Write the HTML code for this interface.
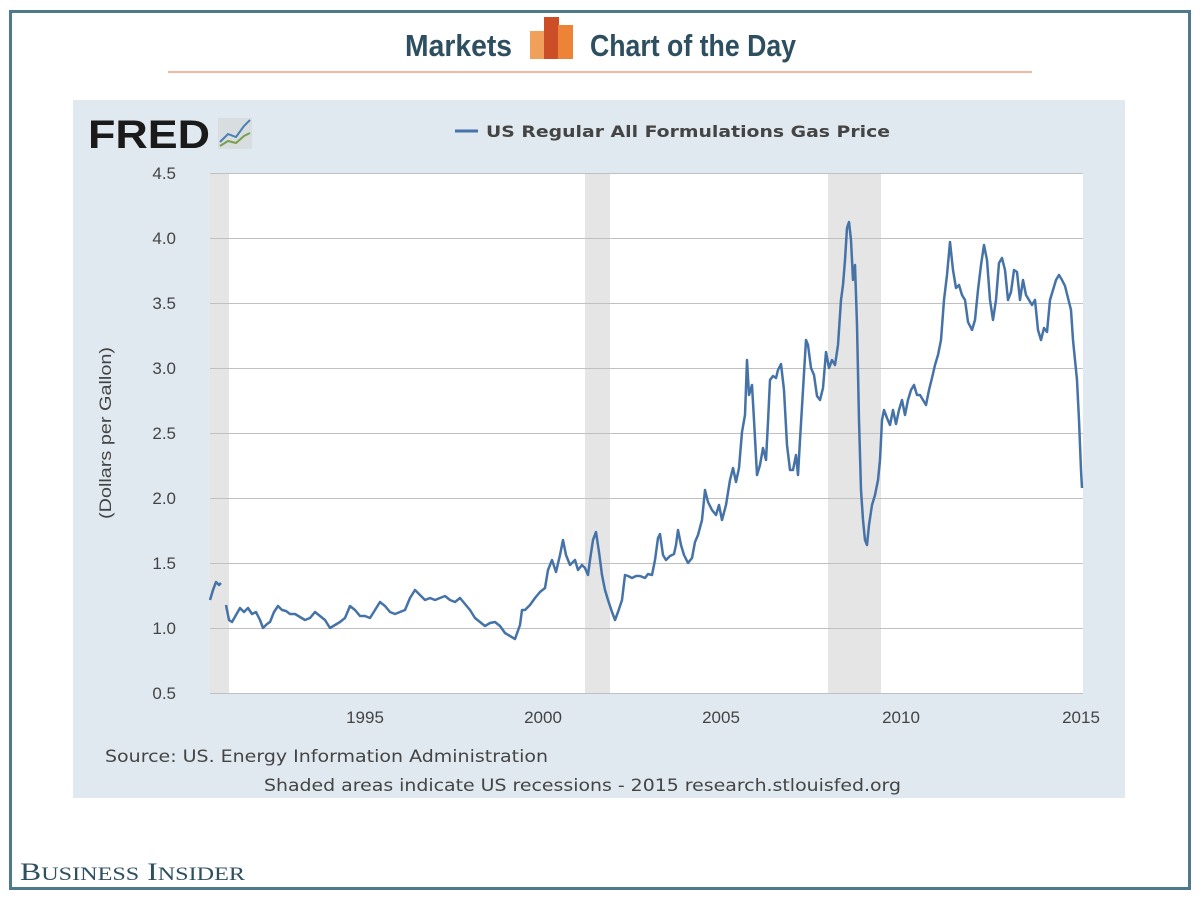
<!DOCTYPE html>
<html><head><meta charset="utf-8"><style>
body{margin:0;width:1200px;height:900px;background:#fff;overflow:hidden;font-family:"Liberation Sans",sans-serif}
</style></head><body>
<svg width="1200" height="900" xmlns="http://www.w3.org/2000/svg" font-family="Liberation Sans, sans-serif">
<rect x="10.5" y="11.5" width="1179" height="877" fill="none" stroke="#4f7a8c" stroke-width="3"/>
<text x="405" y="56" font-family="Liberation Sans Narrow, Liberation Sans, sans-serif" font-weight="bold" font-size="31" fill="#2d4f60" textLength="107" lengthAdjust="spacingAndGlyphs">Markets</text>
<rect x="530" y="31" width="15" height="28" fill="#f0a05a"/>
<rect x="544" y="17" width="15" height="42" fill="#cc4e26"/>
<rect x="558" y="25" width="15" height="34" fill="#ec8336"/>
<text x="590" y="56" font-family="Liberation Sans Narrow, Liberation Sans, sans-serif" font-weight="bold" font-size="31" fill="#2d4f60" textLength="206" lengthAdjust="spacingAndGlyphs">Chart of the Day</text>
<line x1="168" y1="72" x2="1032" y2="72" stroke="#f0a080" stroke-width="1.5"/>
<rect x="73" y="100" width="1052" height="698" fill="#e1e9f0"/>
<text x="88" y="148" font-weight="bold" font-size="40" fill="#1a1a1a" textLength="122" lengthAdjust="spacingAndGlyphs">FRED</text>
<rect x="218" y="118" width="34" height="31" fill="#d8dde0"/>
<polyline points="220,142 228,134 236,137 244,126 250,120" fill="none" stroke="#4a7fb5" stroke-width="2"/>
<polyline points="220,146 228,141 236,143 244,136 250,133" fill="none" stroke="#7aa04a" stroke-width="2"/>
<line x1="455" y1="131" x2="478" y2="131" stroke="#4572a7" stroke-width="3"/>
<text x="486" y="137" font-family="DejaVu Sans, sans-serif" font-weight="bold" font-size="16" fill="#444" textLength="404" lengthAdjust="spacingAndGlyphs">US Regular All Formulations Gas Price</text>
<rect x="210" y="173" width="873" height="520" fill="#fff"/>
<rect x="210" y="173" width="19" height="520" fill="#e5e5e5"/>
<rect x="585" y="173" width="25" height="520" fill="#e5e5e5"/>
<rect x="828" y="173" width="53" height="520" fill="#e5e5e5"/>
<g stroke="#c0c0c0" stroke-width="1">
<line x1="210" y1="173.5" x2="1083" y2="173.5"/><line x1="210" y1="238.5" x2="1083" y2="238.5"/>
<line x1="210" y1="303.5" x2="1083" y2="303.5"/><line x1="210" y1="368.5" x2="1083" y2="368.5"/>
<line x1="210" y1="433.5" x2="1083" y2="433.5"/><line x1="210" y1="498.5" x2="1083" y2="498.5"/>
<line x1="210" y1="563.5" x2="1083" y2="563.5"/><line x1="210" y1="628.5" x2="1083" y2="628.5"/>
<line x1="210" y1="693.5" x2="1083" y2="693.5"/>
</g>
<g font-size="17" fill="#444" text-anchor="end">
<text x="176" y="179">4.5</text><text x="176" y="244">4.0</text><text x="176" y="309">3.5</text>
<text x="176" y="374">3.0</text><text x="176" y="439">2.5</text><text x="176" y="504">2.0</text>
<text x="176" y="569">1.5</text><text x="176" y="634">1.0</text><text x="176" y="699">0.5</text>
</g>
<g font-size="17" fill="#444" text-anchor="middle">
<text x="365" y="723">1995</text><text x="543" y="723">2000</text><text x="721" y="723">2005</text>
<text x="901" y="723">2010</text><text x="1081" y="723">2015</text>
</g>
<text transform="translate(111,433) rotate(-90)" font-size="17" fill="#444" text-anchor="middle" textLength="172" lengthAdjust="spacingAndGlyphs">(Dollars per Gallon)</text>
<g fill="none" stroke="#4572a7" stroke-width="2.5" stroke-linejoin="round">
<polyline points="210,600 213,590 216,582 219,585 221,583"/>
<polyline points="226,605 229,620 232,622 236,615 240,608 244,612 248,608 252,614 256,612 260,620 263,628 267,624 270,622 274,612 278,606 282,610 286,611 290,614 295,614 300,617 305,620 310,618 315,612 320,616 325,620 330,628 335,625 340,622 345,618 350,606 355,610 360,616 365,616 370,618 375,610 380,602 385,606 390,612 395,614 400,612 405,610 410,598 415,590 420,595 425,600 430,598 435,600 440,598 445,596 450,600 455,602 460,598 465,604 470,610 475,618 480,622 485,626 490,623 495,622 500,626 505,633 510,636 515,639 520,625 522,610 525,610 530,605 535,598 540,592 545,588 548,570 552,560 556,572 560,555 563,540 566,555 570,565 575,560 578,570 582,565 585,568 588,575 590,560 593,540 596,532 599,552 602,575 605,590 608,600 612,612 615,620 618,612 622,600 625,575 628,576 632,578 636,576 640,576 645,578 648,574 652,575 655,560 658,538 660,534 663,555 666,560 670,556 674,554 676,545 678,530 681,545 684,555 688,563 692,558 695,542 698,535 702,520 705,490 708,502 712,510 716,515 719,505 722,520 726,505 730,480 733,468 736,482 739,468 742,432 745,415 747,360 749,395 752,385 754,420 757,475 760,465 763,448 766,460 768,422 770,380 773,376 776,378 778,370 781,364 784,390 787,445 790,470 793,470 796,455 798,475 800,440 803,390 806,340 808,345 811,368 814,375 817,396 820,400 823,388 826,352 829,368 832,360 835,365 838,345 841,300 843,285 845,260 847,228 849,222 851,240 853,280 855,265 857,325 859,420 861,490 863,520 865,540 867,545 869,525 872,505 875,495 878,480 880,460 882,420 884,410 887,418 890,425 893,410 896,424 899,410 902,400 905,415 908,400 911,390 914,385 917,395 920,395 923,400 926,405 929,390 932,378 935,365 938,355 941,340 944,300 947,275 950,242 953,270 956,288 959,285 962,295 965,300 968,322 972,330 975,320 978,290 981,265 984,245 987,260 990,300 993,320 996,300 999,263 1002,258 1005,270 1008,300 1011,292 1014,270 1017,272 1020,300 1023,280 1026,295 1029,300 1032,305 1035,300 1038,330 1041,340 1044,328 1047,332 1050,300 1053,290 1056,280 1059,275 1062,280 1065,286 1068,298 1071,310 1073,340 1075,360 1077,380 1079,420 1081,470 1082,488"/>
</g>
<text x="105" y="762" font-family="DejaVu Sans, sans-serif" font-size="17" fill="#444" textLength="443" lengthAdjust="spacingAndGlyphs">Source: US. Energy Information Administration</text>
<text x="264" y="791" font-family="DejaVu Sans, sans-serif" font-size="17" fill="#444" textLength="637" lengthAdjust="spacingAndGlyphs">Shaded areas indicate US recessions - 2015 research.stlouisfed.org</text>
<text x="20" y="880" font-family="Liberation Serif, serif" font-size="25" fill="#2d4f60" textLength="225" lengthAdjust="spacingAndGlyphs">B<tspan font-size="19">USINESS</tspan> I<tspan font-size="19">NSIDER</tspan></text>
</svg>
</body></html>
